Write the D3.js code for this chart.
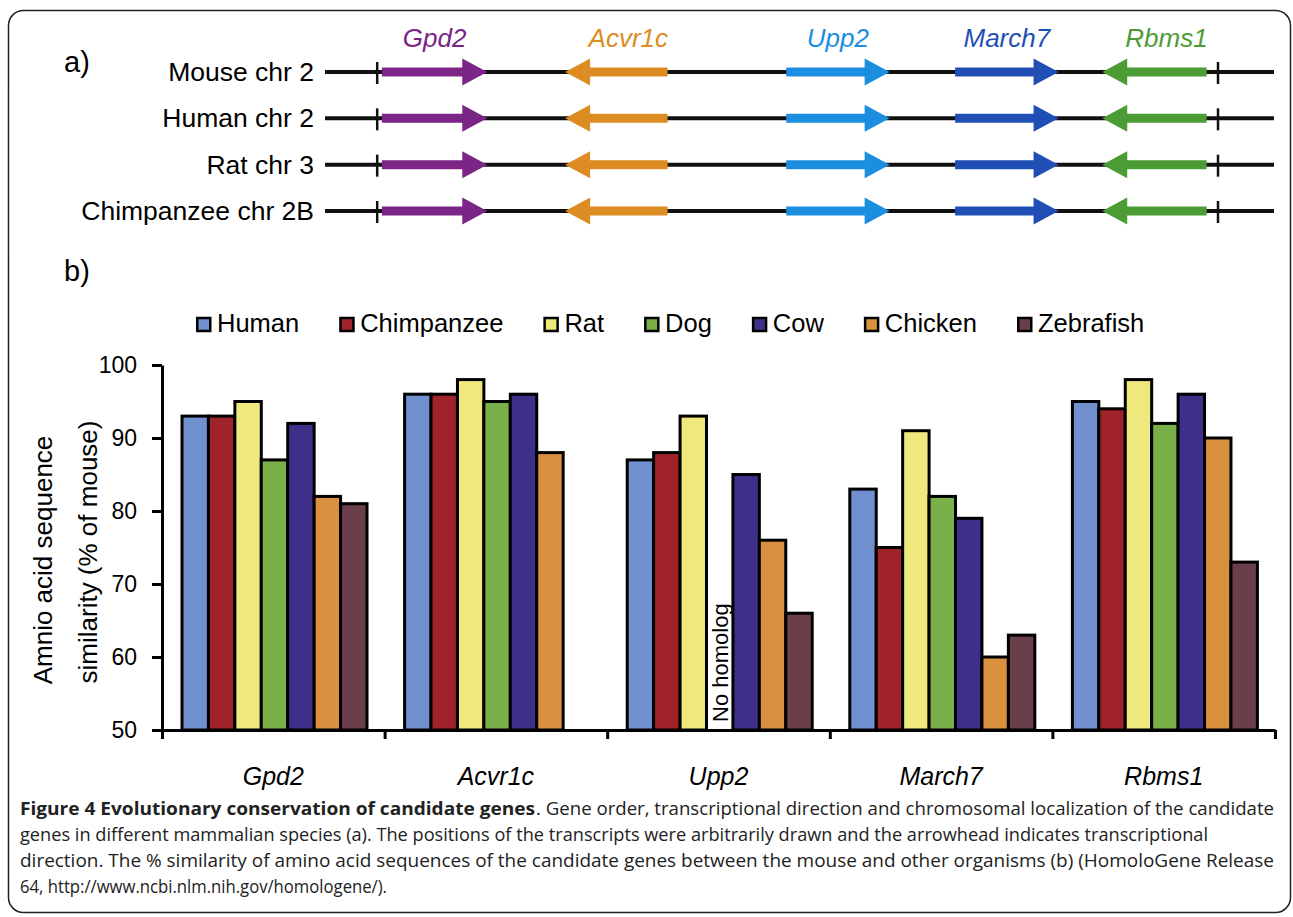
<!DOCTYPE html>
<html>
<head>
<meta charset="utf-8">
<script src="https://cdn.jsdelivr.net/npm/d3@7"></script>
<style>
  body { margin: 0; background: #fff; }
  svg { display: block; }
</style>
</head>
<body>
<svg id="fig"></svg>
<script>
const width = 1293;
const height = 917;

// panel a) data
const chromosomeLabels = ["Mouse chr 2", "Human chr 2", "Rat chr 3", "Chimpanzee chr 2B"];
const geneNames = ["Gpd2", "Acvr1c", "Upp2", "March7", "Rbms1"];
const geneStart = [6.0, 25.3, 48.6, 66.4, 81.9];   // arbitrary units
const geneEnd = [17.1, 36.1, 59.5, 77.3, 92.9];
const geneStrand = [1, -1, 1, 1, -1];
const boundaryMarks = [5.5, 94.1];
const geneColors = ["#7b2587", "#dc8c22", "#1c8ee0", "#1f4fb5", "#4c9c35"];

// panel b) data
const speciesNames = ["Human", "Chimpanzee", "Rat", "Dog", "Cow", "Chicken", "Zebrafish"];
const humanValues = [93, 96, 87, 83, 95];
const chimpanzeeValues = [93, 96, 88, 75, 94];
const ratValues = [95, 98, 93, 91, 98];
const dogValues = [87, 95, null, 82, 92];
const cowValues = [92, 96, 85, 79, 96];
const chickenValues = [82, 88, 76, 60, 90];
const zebrafishValues = [81, null, 66, 63, 73];
const yTicks = [50, 60, 70, 80, 90, 100];
const speciesColors = ["#7090d0", "#a0232b", "#efe87c", "#7ab04a", "#3e2f8a", "#d9903f", "#6b3f4a"];
const notes = [{ gene: "Upp2", species: "Dog", text: "No homolog" }];

const seriesValues = [humanValues, chimpanzeeValues, ratValues, dogValues, cowValues, chickenValues, zebrafishValues];

const FONT = "'Liberation Sans', Arial, sans-serif";

const svg = d3.select("#fig")
    .attr("width", width)
    .attr("height", height)
    .style("font-family", FONT);

// frame
svg.append("rect")
    .attr("x", 8.5).attr("y", 10.5)
    .attr("width", 1282).attr("height", 902)
    .attr("rx", 15).attr("ry", 15)
    .attr("fill", "#fff")
    .attr("stroke", "#222")
    .attr("stroke-width", 1.5);

// ---------- a) ----------
svg.append("text").attr("x", 64).attr("y", 72)
    .style("font-size", "29px").text("a)");

const pos = d3.scaleLinear().domain([0, 100]).range([325, 1274]);
const rowY = d3.scalePoint().domain(chromosomeLabels).range([72, 211]);

const headLen = 25, headHalf = 13.5, shaftHalf = 4.5;
function arrowPath(s, e, strand, y) {
    const p = d3.path();
    if (strand > 0) {
        p.moveTo(s, y - shaftHalf);
        p.lineTo(e - headLen, y - shaftHalf);
        p.lineTo(e - headLen, y - headHalf);
        p.lineTo(e, y);
        p.lineTo(e - headLen, y + headHalf);
        p.lineTo(e - headLen, y + shaftHalf);
        p.lineTo(s, y + shaftHalf);
    } else {
        p.moveTo(e, y - shaftHalf);
        p.lineTo(s + headLen, y - shaftHalf);
        p.lineTo(s + headLen, y - headHalf);
        p.lineTo(s, y);
        p.lineTo(s + headLen, y + headHalf);
        p.lineTo(s + headLen, y + shaftHalf);
        p.lineTo(e, y + shaftHalf);
    }
    p.closePath();
    return p.toString();
}

chromosomeLabels.forEach(chr => {
    const y = rowY(chr);
    const g = svg.append("g");
    g.append("text")
        .attr("x", 314).attr("y", y + 9)
        .attr("text-anchor", "end")
        .style("font-size", "26.5px")
        .text(chr);
    g.append("line")
        .attr("x1", pos(0)).attr("x2", pos(100))
        .attr("y1", y).attr("y2", y)
        .attr("stroke", "#111").attr("stroke-width", 4);
    boundaryMarks.forEach(b => {
        g.append("line")
            .attr("x1", pos(b)).attr("x2", pos(b))
            .attr("y1", y - 10).attr("y2", y + 12)
            .attr("stroke", "#111").attr("stroke-width", 2.5);
    });
    geneNames.forEach((gene, i) => {
        g.append("path")
            .attr("d", arrowPath(pos(geneStart[i]), pos(geneEnd[i]), geneStrand[i], y))
            .attr("fill", geneColors[i]);
    });
});

geneNames.forEach((gene, i) => {
    const cx = (pos(geneStart[i]) + pos(geneEnd[i])) / 2 + (geneStrand[i] < 0 ? 12 : 0);
    svg.append("text")
        .attr("x", cx).attr("y", 47)
        .attr("text-anchor", "middle")
        .style("font-size", "26px")
        .style("font-style", "italic")
        .attr("fill", geneColors[i])
        .text(gene);
});

// ---------- b) ----------
svg.append("text").attr("x", 64).attr("y", 281)
    .style("font-size", "29px").text("b)");

// legend
const legend = svg.append("g").attr("transform", "translate(196, 0)");
let lx = 0;
speciesNames.forEach((sp, i) => {
    legend.append("rect")
        .attr("x", lx + 1.25).attr("y", 318)
        .attr("width", 13).attr("height", 13)
        .attr("fill", speciesColors[i])
        .attr("stroke", "#000").attr("stroke-width", 2.5);
    const t = legend.append("text")
        .attr("x", lx + 21).attr("y", 332)
        .style("font-size", "25.5px")
        .text(sp);
    lx += 21 + t.node().getComputedTextLength() + 40;
});

const x = d3.scaleBand().domain(geneNames).range([162, 1275]);
const xSpecies = d3.scaleBand().domain(speciesNames).range([20, 205]);
const y = d3.scaleLinear().domain([50, 100]).range([730, 365]);

const bars = [];
geneNames.forEach((gene, gi) => {
    speciesNames.forEach((sp, si) => {
        const v = seriesValues[si][gi];
        if (v != null) bars.push({ gene, sp, v, color: speciesColors[si] });
    });
});

svg.append("g").selectAll("rect")
    .data(bars)
    .join("rect")
    .attr("x", d => x(d.gene) + xSpecies(d.sp))
    .attr("y", d => y(d.v))
    .attr("width", xSpecies.bandwidth())
    .attr("height", d => y(50) - y(d.v))
    .attr("fill", d => d.color)
    .attr("stroke", "#000")
    .attr("stroke-width", 3);

notes.forEach(n => {
    const nx = x(n.gene) + xSpecies(n.species) + xSpecies.bandwidth() / 2 + 8;
    svg.append("text")
        .attr("transform", `translate(${nx}, ${y(50) - 8}) rotate(-90)`)
        .style("font-size", "22px")
        .text(n.text);
});

// axes
const yAxis = svg.append("g")
    .attr("transform", "translate(162, 0)")
    .call(d3.axisLeft(y).tickValues(yTicks).tickSize(10).tickSizeOuter(0).tickPadding(15));
yAxis.selectAll("text").style("font-size", "23px").style("font-family", FONT).attr("fill", "#000");

const xBound = d3.scaleLinear().domain([0, geneNames.length]).range([162, 1275]);
const xAxis = svg.append("g")
    .attr("transform", "translate(0, 730)")
    .call(d3.axisBottom(xBound).ticks(geneNames.length).tickFormat("").tickSize(9).tickSizeOuter(0));

[yAxis, xAxis].forEach(a => {
    a.select(".domain").attr("stroke", "#000").attr("stroke-width", 3);
    a.selectAll(".tick line").attr("stroke", "#000").attr("stroke-width", 3);
});

svg.append("g").selectAll("text")
    .data(geneNames)
    .join("text")
    .attr("x", d => x(d) + x.bandwidth() / 2)
    .attr("y", 785)
    .attr("text-anchor", "middle")
    .style("font-size", "25px")
    .style("font-style", "italic")
    .text(d => d);

// y axis title
svg.append("text")
    .attr("transform", "translate(43, 560) rotate(-90)")
    .attr("text-anchor", "middle")
    .attr("dy", "0.35em")
    .style("font-size", "26px")
    .text("Amnio acid sequence");
svg.append("text")
    .attr("transform", "translate(88, 552) rotate(-90)")
    .attr("text-anchor", "middle")
    .attr("dy", "0.35em")
    .style("font-size", "26px")
    .text("similarity (% of mouse)");

// caption
const CAP = "'Open Sans', 'Noto Sans', sans-serif";
const cap = svg.append("g").style("font-family", CAP).style("font-size", "18px").attr("fill", "#222");
cap.append("text").attr("x", 20).attr("y", 815)
    .style("font-weight", "bold")
    .attr("textLength", 515).attr("lengthAdjust", "spacingAndGlyphs")
    .text("Figure 4 Evolutionary conservation of candidate genes");
cap.append("text").attr("x", 536).attr("y", 815)
    .attr("textLength", 738).attr("lengthAdjust", "spacingAndGlyphs")
    .text(". Gene order, transcriptional direction and chromosomal localization of the candidate");
cap.append("text").attr("x", 20).attr("y", 841)
    .attr("textLength", 1188).attr("lengthAdjust", "spacingAndGlyphs")
    .text("genes in different mammalian species (a). The positions of the transcripts were arbitrarily drawn and the arrowhead indicates transcriptional");
cap.append("text").attr("x", 20).attr("y", 867)
    .attr("textLength", 1254).attr("lengthAdjust", "spacingAndGlyphs")
    .text("direction. The % similarity of amino acid sequences of the candidate genes between the mouse and other organisms (b) (HomoloGene Release");
cap.append("text").attr("x", 20).attr("y", 893)
    .attr("textLength", 367).attr("lengthAdjust", "spacingAndGlyphs")
    .text("64, http://www.ncbi.nlm.nih.gov/homologene/).");
</script>
</body>
</html>
